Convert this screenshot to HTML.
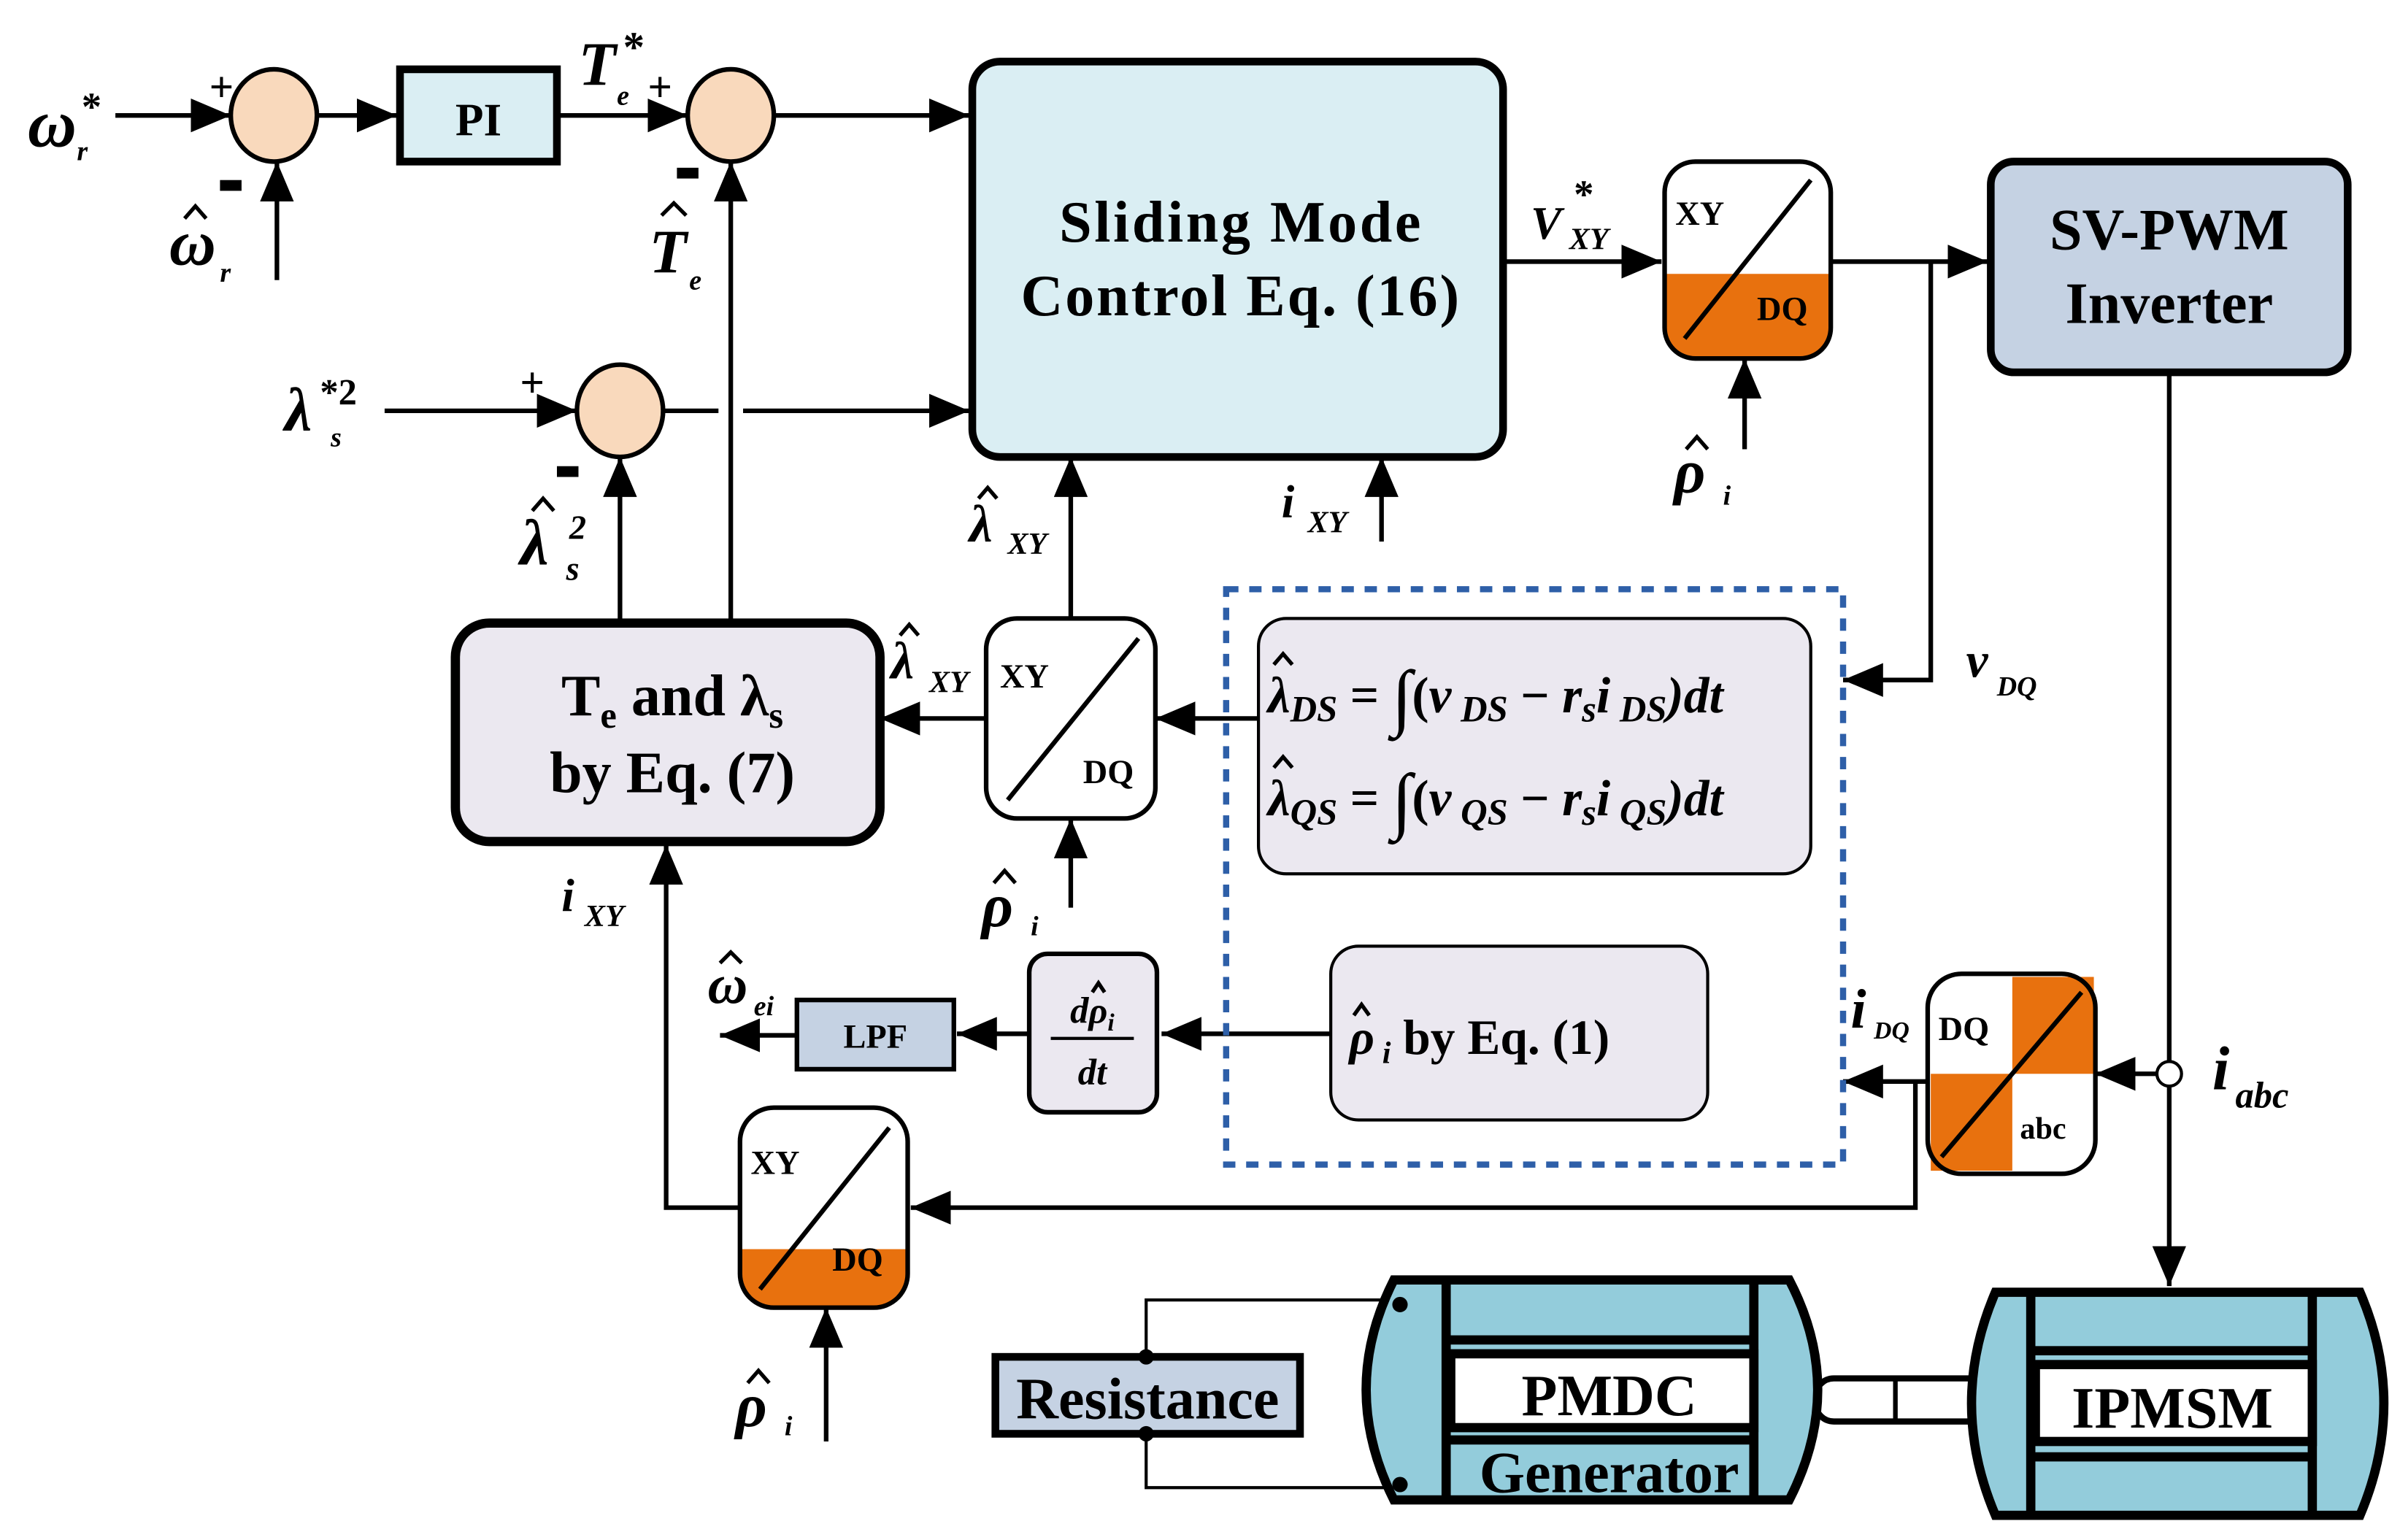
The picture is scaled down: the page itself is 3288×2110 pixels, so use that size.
<!DOCTYPE html>
<html><head><meta charset="utf-8"><style>
html,body{margin:0;padding:0;background:#fff;}
svg{display:block;}
text{font-family:"Liberation Serif",serif;font-weight:bold;fill:#000;}
.i{font-style:italic;}
.h{fill:none;stroke:#000;stroke-width:2.5;}
</style></head><body>
<svg width="3288" height="2110" viewBox="0 0 1560 1001" xmlns="http://www.w3.org/2000/svg">
<defs>
<marker id="b" viewBox="0 0 10 10" refX="10" refY="5" markerWidth="26" markerHeight="22" markerUnits="userSpaceOnUse" orient="auto" preserveAspectRatio="none">
<path d="M0,0 L10,5 L0,10 z" fill="#000"/></marker>
</defs>
<g stroke="#000" stroke-width="3" fill="none">
<line x1="75" y1="75" x2="150" y2="75" marker-end="url(#b)"/>
<line x1="206" y1="75" x2="258" y2="75" marker-end="url(#b)"/>
<line x1="180" y1="182" x2="180" y2="105" marker-end="url(#b)"/>
<line x1="362" y1="75" x2="447" y2="75" marker-end="url(#b)"/>
<line x1="503" y1="75" x2="630" y2="75" marker-end="url(#b)"/>
<line x1="475" y1="405" x2="475" y2="105" marker-end="url(#b)"/>
<line x1="250" y1="267" x2="375" y2="267" marker-end="url(#b)"/>
<line x1="431" y1="267" x2="467" y2="267"/>
<line x1="483" y1="267" x2="630" y2="267" marker-end="url(#b)"/>
<line x1="403" y1="405" x2="403" y2="297" marker-end="url(#b)"/>
<line x1="696" y1="402" x2="696" y2="297" marker-end="url(#b)"/>
<line x1="898" y1="352" x2="898" y2="297" marker-end="url(#b)"/>
<line x1="641" y1="467" x2="572" y2="467" marker-end="url(#b)"/>
<line x1="818" y1="467" x2="751" y2="467" marker-end="url(#b)"/>
<line x1="696" y1="590" x2="696" y2="532" marker-end="url(#b)"/>
<line x1="977" y1="170" x2="1080" y2="170" marker-end="url(#b)"/>
<line x1="1134" y1="292" x2="1134" y2="233" marker-end="url(#b)"/>
<line x1="1190" y1="170" x2="1292" y2="170" marker-end="url(#b)"/>
<polyline points="1255,170 1255,442 1198,442" marker-end="url(#b)"/>
<line x1="1410" y1="242" x2="1410" y2="836" marker-end="url(#b)"/>
<line x1="865" y1="672" x2="755" y2="672" marker-end="url(#b)"/>
<line x1="669" y1="672" x2="622" y2="672" marker-end="url(#b)"/>
<line x1="518" y1="673" x2="468" y2="673" marker-end="url(#b)"/>
<line x1="1402" y1="698" x2="1362" y2="698" marker-end="url(#b)"/>
<line x1="1253" y1="703" x2="1198" y2="703" marker-end="url(#b)"/>
<polyline points="1245,703 1245,785 592,785" marker-end="url(#b)"/>
<polyline points="481,785 433,785 433,549" marker-end="url(#b)"/>
<line x1="537" y1="937" x2="537" y2="850" marker-end="url(#b)"/>
<polyline points="910,845 745,845 745,967 910,967" stroke-width="2"/>
</g>
<circle cx="1410" cy="698" r="8" fill="#fff" stroke="#000" stroke-width="2"/>
<g fill="#f9d9bc" stroke="#000" stroke-width="3">
<ellipse cx="178" cy="75" rx="28" ry="30"/>
<ellipse cx="475" cy="75" rx="28" ry="30"/>
<ellipse cx="403" cy="267" rx="28" ry="30"/>
</g>
<g fill="#000">
<rect x="143" y="117" width="14" height="7"/>
<rect x="440" y="109" width="14" height="7"/>
<rect x="362" y="303" width="14" height="7"/>
</g>
<text x="136" y="66" font-size="28" font-weight="normal">+</text>
<text x="421" y="66" font-size="28" font-weight="normal">+</text>
<text x="338" y="258" font-size="28" font-weight="normal">+</text>
<rect x="260" y="45" width="102" height="60" fill="#daeef3" stroke="#000" stroke-width="5"/>
<text x="311" y="88" font-size="30" text-anchor="middle">PI</text>
<rect x="632" y="40" width="345" height="257" rx="18" fill="#daeef3" stroke="#000" stroke-width="5"/>
<text x="806" y="157" font-size="38" text-anchor="middle" textLength="235">Sliding Mode</text>
<text x="806" y="205" font-size="38" text-anchor="middle" textLength="285">Control Eq. (16)</text>
<rect x="296" y="405" width="276" height="142" rx="22" fill="#ebe8f0" stroke="#000" stroke-width="6"/>
<text x="437" y="465" font-size="38" text-anchor="middle">T<tspan font-size="24" dy="8">e</tspan><tspan dy="-8"> and λ</tspan><tspan font-size="24" dy="8">s</tspan></text>
<text x="437" y="515" font-size="38" text-anchor="middle">by Eq. (7)</text>
<rect x="641" y="402" width="110" height="130" rx="20" fill="#fff" stroke="#000" stroke-width="3"/>
<line x1="655" y1="520" x2="740" y2="415" stroke="#000" stroke-width="3"/>
<text x="650" y="447" font-size="22">XY</text>
<text x="704" y="509" font-size="22">DQ</text>
<path d="M1082,178 H1190 V213 a20,20 0 0 1 -20,20 H1102 a20,20 0 0 1 -20,-20 Z" fill="#e8710e"/>
<rect x="1082" y="105" width="108" height="128" rx="20" fill="none" stroke="#000" stroke-width="3"/>
<line x1="1095" y1="220" x2="1177" y2="117" stroke="#000" stroke-width="3"/>
<text x="1089" y="146" font-size="22">XY</text>
<text x="1142" y="208" font-size="22">DQ</text>
<rect x="1294" y="105" width="232" height="137" rx="15" fill="#c5d2e3" stroke="#000" stroke-width="5"/>
<text x="1410" y="162" font-size="38" text-anchor="middle">SV-PWM</text>
<text x="1410" y="210" font-size="38" text-anchor="middle">Inverter</text>
<rect x="797" y="383" width="401" height="374" fill="none" stroke="#2e5fa8" stroke-width="4" stroke-dasharray="8,7"/>
<rect x="818" y="402" width="359" height="166" rx="18" fill="#ebe8f0" stroke="#000" stroke-width="2"/>
<text x="824" y="463" font-size="33" class="i">λ<tspan font-size="24" dy="6">DS</tspan><tspan dy="-6" font-style="normal"> = </tspan><tspan font-size="48" font-style="normal" dy="6">∫</tspan><tspan dy="-6" font-style="normal">(</tspan>v<tspan font-size="24" dy="6"> DS</tspan><tspan dy="-6" font-style="normal"> − </tspan>r<tspan font-size="24" dy="6">s</tspan><tspan dy="-6">i</tspan><tspan font-size="24" dy="6"> DS</tspan><tspan dy="-6">)dt</tspan></text>
<text x="824" y="530" font-size="33" class="i">λ<tspan font-size="24" dy="6">QS</tspan><tspan dy="-6" font-style="normal"> = </tspan><tspan font-size="48" font-style="normal" dy="6">∫</tspan><tspan dy="-6" font-style="normal">(</tspan>v<tspan font-size="24" dy="6"> QS</tspan><tspan dy="-6" font-style="normal"> − </tspan>r<tspan font-size="24" dy="6">s</tspan><tspan dy="-6">i</tspan><tspan font-size="24" dy="6"> QS</tspan><tspan dy="-6">)dt</tspan></text>
<polyline class="h" points="828,432 834,425 840,432"/>
<polyline class="h" points="828,499 834,492 840,499"/>
<rect x="865" y="615" width="245" height="113" rx="18" fill="#ebe8f0" stroke="#000" stroke-width="2"/>
<text x="877" y="685" font-size="32"><tspan class="i">ρ</tspan><tspan font-size="20" class="i" dy="6"> i</tspan><tspan dy="-6"> by Eq. (1)</tspan></text>
<polyline class="h" points="880,660 885,653 890,660"/>
<rect x="669" y="620" width="83" height="103" rx="12" fill="#ebe8f0" stroke="#000" stroke-width="3"/>
<text x="710" y="665" font-size="24" class="i" text-anchor="middle">dρ<tspan font-size="16" dy="5">i</tspan></text>
<polyline class="h" points="710,645 714,639 718,645"/>
<line x1="683" y1="675" x2="737" y2="675" stroke="#000" stroke-width="2"/>
<text x="710" y="705" font-size="24" class="i" text-anchor="middle">dt</text>
<rect x="518" y="650" width="102" height="45" fill="#c5d2e3" stroke="#000" stroke-width="3"/>
<text x="569" y="681" font-size="22" text-anchor="middle">LPF</text>
<rect x="1308" y="635" width="53" height="63" fill="#e8710e"/>
<rect x="1255" y="698" width="53" height="63" fill="#e8710e"/>
<rect x="1253" y="633" width="109" height="130" rx="22" fill="none" stroke="#000" stroke-width="3"/>
<line x1="1262" y1="752" x2="1353" y2="645" stroke="#000" stroke-width="3"/>
<text x="1260" y="676" font-size="22">DQ</text>
<text x="1313" y="740" font-size="20">abc</text>
<path d="M481,812 H590 V828 a22,22 0 0 1 -22,22 H503 a22,22 0 0 1 -22,-22 Z" fill="#e8710e"/>
<rect x="481" y="720" width="109" height="130" rx="22" fill="none" stroke="#000" stroke-width="3"/>
<line x1="494" y1="838" x2="578" y2="733" stroke="#000" stroke-width="3"/>
<text x="488" y="763" font-size="22">XY</text>
<text x="541" y="826" font-size="22">DQ</text>
<!-- labels -->
<text x="18" y="95" font-size="44" class="i">ω</text><text x="53" y="78" font-size="26">*</text><text x="50" y="104" font-size="18" class="i">r</text>
<text x="110" y="172" font-size="42" class="i">ω</text><text x="143" y="183" font-size="18" class="i">r</text>
<polyline class="h" points="120,142 127,134 134,142" stroke-width="3"/>
<text x="376" y="55" font-size="40" class="i">T</text><text x="405" y="40" font-size="28">*</text><text x="401" y="68" font-size="18" class="i">e</text>
<text x="422" y="177" font-size="40" class="i">T</text><text x="448" y="188" font-size="18" class="i">e</text>
<polyline class="h" points="430,140 438,132 446,140" stroke-width="3"/>
<text x="185" y="280" font-size="40" class="i">λ</text><text x="208" y="263" font-size="24">*2</text><text x="215" y="290" font-size="18" class="i">s</text>
<text x="338" y="367" font-size="42" class="i">λ</text><text x="370" y="350" font-size="22" class="i">2</text><text x="368" y="377" font-size="22" class="i">s</text>
<polyline class="h" points="346,332 353,324 360,332" stroke-width="3"/>
<text x="630" y="352" font-size="34" class="i">λ</text><text x="655" y="360" font-size="20" class="i">XY</text>
<polyline class="h" points="636,324 642,317 648,324"/>
<text x="579" y="441" font-size="34" class="i">λ</text><text x="604" y="450" font-size="20" class="i">XY</text>
<polyline class="h" points="585,413 591,406 597,413"/>
<text x="833" y="336" font-size="30" class="i">i</text><text x="850" y="346" font-size="20" class="i">XY</text>
<text x="995" y="155" font-size="30" class="i" font-weight="normal">V</text><text x="1023" y="135" font-size="26">*</text><text x="1020" y="162" font-size="20" class="i" font-weight="normal">XY</text>
<text x="1088" y="320" font-size="40" class="i">ρ</text><text x="1120" y="328" font-size="18" class="i">i</text>
<polyline class="h" points="1096,292 1103,284 1110,292" stroke-width="3"/>
<text x="638" y="602" font-size="40" class="i">ρ</text><text x="670" y="608" font-size="18" class="i">i</text>
<polyline class="h" points="646,574 653,566 660,574" stroke-width="3"/>
<text x="478" y="927" font-size="40" class="i">ρ</text><text x="510" y="933" font-size="18" class="i">i</text>
<polyline class="h" points="486,899 493,891 500,899" stroke-width="3"/>
<text x="1278" y="440" font-size="32" class="i">v</text><text x="1298" y="452" font-size="18" class="i">DQ</text>
<text x="365" y="592" font-size="30" class="i">i</text><text x="380" y="602" font-size="20" class="i">XY</text>
<text x="460" y="652" font-size="36" class="i">ω</text><text x="490" y="660" font-size="18" class="i">ei</text>
<polyline class="h" points="468,626 475,619 482,626" stroke-width="3"/>
<text x="1203" y="668" font-size="36" class="i">i</text><text x="1218" y="675" font-size="16" class="i">DQ</text>
<text x="1438" y="708" font-size="40" class="i">i</text><text x="1453" y="720" font-size="24" class="i">abc</text>
<!-- resistance -->
<rect x="647" y="882" width="198" height="50" fill="#c5d2e3" stroke="#000" stroke-width="5"/>
<text x="746" y="922" font-size="38" text-anchor="middle">Resistance</text>
<circle cx="745" cy="882" r="5" fill="#000"/><circle cx="745" cy="932" r="5" fill="#000"/>
<!-- shaft -->
<rect x="1180" y="896" width="112" height="28" rx="12" fill="#fff" stroke="#000" stroke-width="4"/>
<line x1="1232" y1="897" x2="1232" y2="923" stroke="#000" stroke-width="3"/>
<!-- PMDC motor -->
<path d="M906,832 H1163 Q1200,903 1163,975 H906 Q870,903 906,832 Z" fill="#93ccdb" stroke="#000" stroke-width="6"/>
<line x1="940" y1="832" x2="940" y2="975" stroke="#000" stroke-width="6"/>
<line x1="1140" y1="832" x2="1140" y2="975" stroke="#000" stroke-width="6"/>
<rect x="940" y="868" width="200" height="6" fill="#000"/>
<rect x="943" y="880" width="197" height="48" fill="#fff" stroke="#000" stroke-width="6"/>
<rect x="940" y="933" width="200" height="6" fill="#000"/>
<text x="1046" y="920" font-size="38" text-anchor="middle">PMDC</text>
<text x="1046" y="970" font-size="38" text-anchor="middle">Generator</text>
<circle cx="910" cy="848" r="5" fill="#000"/><circle cx="910" cy="965" r="5" fill="#000"/>
<!-- IPMSM motor -->
<path d="M1297,840 H1534 Q1565,912 1534,985 H1297 Q1266,912 1297,840 Z" fill="#93ccdb" stroke="#000" stroke-width="6"/>
<line x1="1320" y1="840" x2="1320" y2="985" stroke="#000" stroke-width="6"/>
<line x1="1503" y1="840" x2="1503" y2="985" stroke="#000" stroke-width="6"/>
<rect x="1320" y="875" width="183" height="6" fill="#000"/>
<rect x="1323" y="887" width="180" height="50" fill="#fff" stroke="#000" stroke-width="6"/>
<rect x="1320" y="944" width="183" height="6" fill="#000"/>
<text x="1412" y="928" font-size="38" text-anchor="middle">IPMSM</text>
</svg>
</body></html>
